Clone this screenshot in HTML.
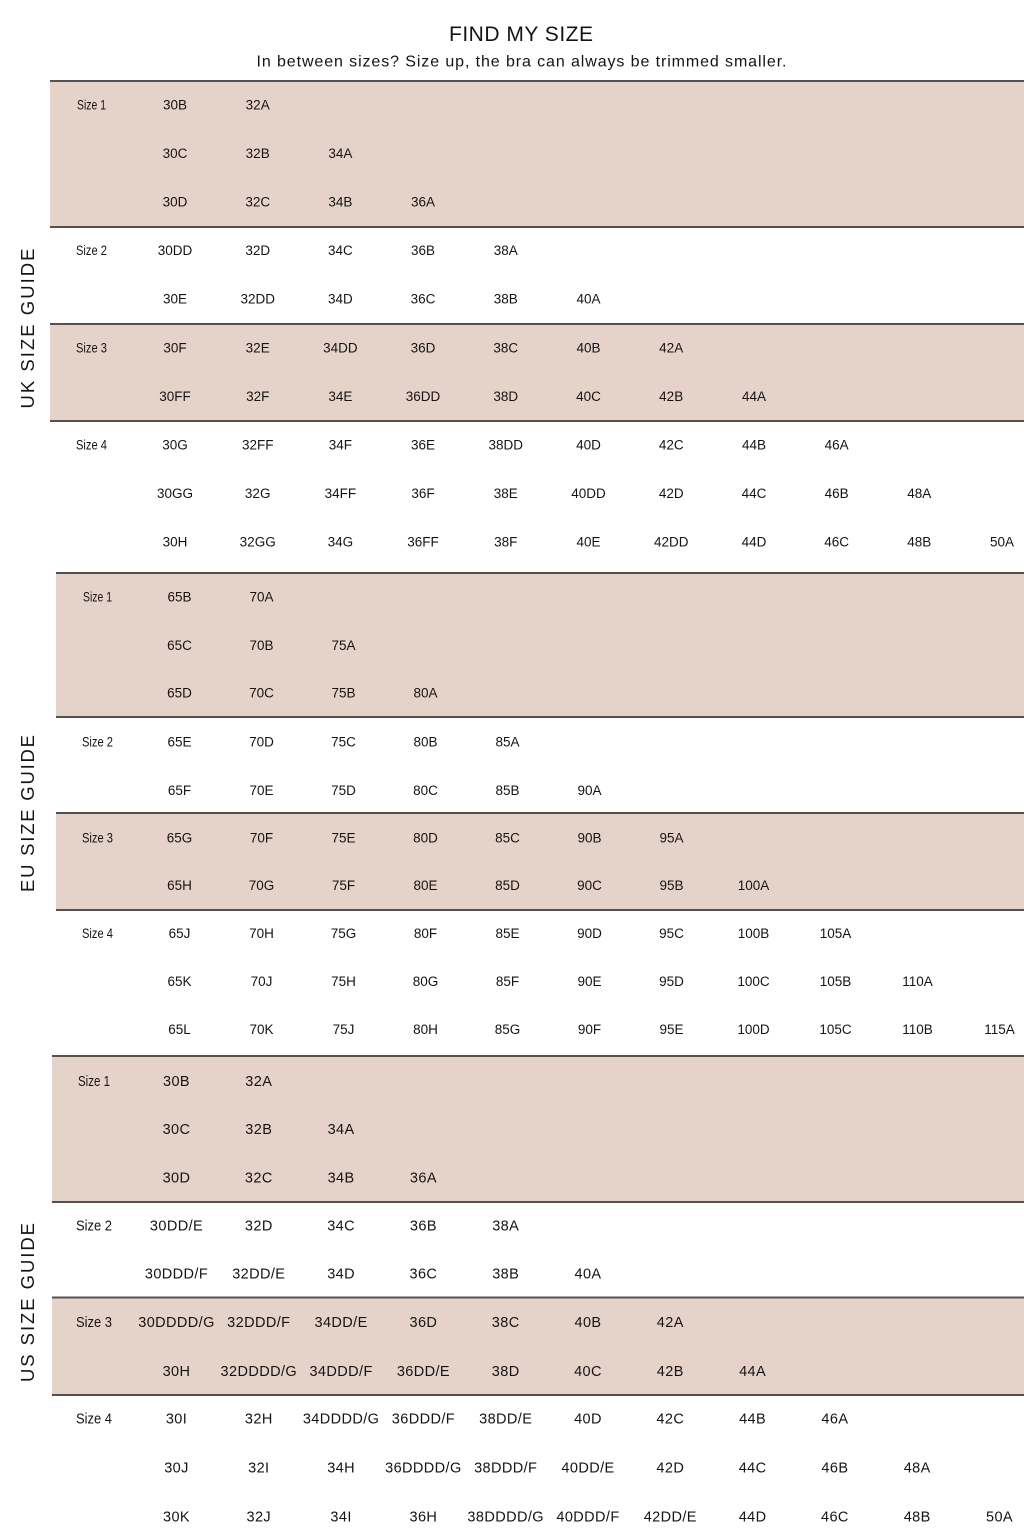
<!DOCTYPE html>
<html>
<head>
<meta charset="utf-8">
<style>
  html,body{margin:0;padding:0;background:#fff;}
  svg{display:block;}
  .t{font-family:"Liberation Sans",sans-serif;fill:#161413;}
  .uk text,.eu text{font-size:13.5px;text-anchor:middle;}
  .us text{font-size:14.5px;letter-spacing:0.4px;text-anchor:middle;}
  .uk text.l,.eu text.l{font-size:13.5px;letter-spacing:0;}
  .us text.l{font-size:14.5px;letter-spacing:0;}
  .v{font-size:18.5px;text-anchor:middle;}
</style>
</head>
<body>
<svg width="1024" height="1536" viewBox="0 0 1024 1536" xmlns="http://www.w3.org/2000/svg">
  <rect width="1024" height="1536" fill="#fff"/>
  <!-- fills -->
  <g fill="#e5d3c9">
    <rect x="50" y="81" width="974" height="146"/>
    <rect x="50" y="324" width="974" height="97"/>
    <rect x="56" y="573" width="968" height="144"/>
    <rect x="56" y="813" width="968" height="97"/>
    <rect x="52" y="1056" width="972" height="146"/>
    <rect x="52" y="1297.5" width="972" height="97.5"/>
  </g>
  <!-- lines -->
  <g stroke="#56504e" stroke-width="2">
    <line x1="50" y1="81" x2="1024" y2="81"/>
    <line x1="50" y1="227" x2="1024" y2="227"/>
    <line x1="50" y1="324" x2="1024" y2="324"/>
    <line x1="50" y1="421" x2="1024" y2="421"/>
    <line x1="56" y1="573" x2="1024" y2="573"/>
    <line x1="56" y1="717" x2="1024" y2="717"/>
    <line x1="56" y1="813" x2="1024" y2="813"/>
    <line x1="56" y1="910" x2="1024" y2="910"/>
    <line x1="52" y1="1056" x2="1024" y2="1056"/>
    <line x1="52" y1="1202" x2="1024" y2="1202"/>
    <line x1="52" y1="1297.5" x2="1024" y2="1297.5"/>
    <line x1="52" y1="1395" x2="1024" y2="1395"/>
  </g>

  <!-- header -->
  <text class="t" x="449" y="41" font-size="21" textLength="144" lengthAdjust="spacing">FIND MY SIZE</text>
  <text class="t" x="256.5" y="66.5" font-size="16" textLength="530" lengthAdjust="spacing">In between sizes? Size up, the bra can always be trimmed smaller.</text>

  <!-- vertical labels -->
  <text class="t v" transform="translate(34,328.5) rotate(-90)" textLength="160" lengthAdjust="spacing">UK SIZE GUIDE</text>
  <text class="t v" transform="translate(34,813.5) rotate(-90)" textLength="157" lengthAdjust="spacing">EU SIZE GUIDE</text>
  <text class="t v" transform="translate(34,1302.5) rotate(-90)" textLength="159" lengthAdjust="spacing">US SIZE GUIDE</text>

  <!-- UK -->
  <g class="t uk">
    <text class="l" x="91.5" y="109.3" textLength="29" lengthAdjust="spacingAndGlyphs">Size 1</text>
    <text x="175" y="109.3">30B</text><text x="257.7" y="109.3">32A</text>
    <text x="175" y="158">30C</text><text x="257.7" y="158">32B</text><text x="340.4" y="158">34A</text>
    <text x="175" y="206.7">30D</text><text x="257.7" y="206.7">32C</text><text x="340.4" y="206.7">34B</text><text x="423" y="206.7">36A</text>

    <text class="l" x="91.5" y="255" textLength="31" lengthAdjust="spacingAndGlyphs">Size 2</text>
    <text x="175" y="255">30DD</text><text x="257.7" y="255">32D</text><text x="340.4" y="255">34C</text><text x="423" y="255">36B</text><text x="505.8" y="255">38A</text>
    <text x="175" y="303.7">30E</text><text x="257.7" y="303.7">32DD</text><text x="340.4" y="303.7">34D</text><text x="423" y="303.7">36C</text><text x="505.8" y="303.7">38B</text><text x="588.5" y="303.7">40A</text>

    <text class="l" x="91.5" y="352.3" textLength="31" lengthAdjust="spacingAndGlyphs">Size 3</text>
    <text x="175" y="352.3">30F</text><text x="257.7" y="352.3">32E</text><text x="340.4" y="352.3">34DD</text><text x="423" y="352.3">36D</text><text x="505.8" y="352.3">38C</text><text x="588.5" y="352.3">40B</text><text x="671.2" y="352.3">42A</text>
    <text x="175" y="401">30FF</text><text x="257.7" y="401">32F</text><text x="340.4" y="401">34E</text><text x="423" y="401">36DD</text><text x="505.8" y="401">38D</text><text x="588.5" y="401">40C</text><text x="671.2" y="401">42B</text><text x="754" y="401">44A</text>

    <text class="l" x="91.5" y="449.3" textLength="31" lengthAdjust="spacingAndGlyphs">Size 4</text>
    <text x="175" y="449.3">30G</text><text x="257.7" y="449.3">32FF</text><text x="340.4" y="449.3">34F</text><text x="423" y="449.3">36E</text><text x="505.8" y="449.3">38DD</text><text x="588.5" y="449.3">40D</text><text x="671.2" y="449.3">42C</text><text x="754" y="449.3">44B</text><text x="836.6" y="449.3">46A</text>
    <text x="175" y="498">30GG</text><text x="257.7" y="498">32G</text><text x="340.4" y="498">34FF</text><text x="423" y="498">36F</text><text x="505.8" y="498">38E</text><text x="588.5" y="498">40DD</text><text x="671.2" y="498">42D</text><text x="754" y="498">44C</text><text x="836.6" y="498">46B</text><text x="919.3" y="498">48A</text>
    <text x="175" y="546.7">30H</text><text x="257.7" y="546.7">32GG</text><text x="340.4" y="546.7">34G</text><text x="423" y="546.7">36FF</text><text x="505.8" y="546.7">38F</text><text x="588.5" y="546.7">40E</text><text x="671.2" y="546.7">42DD</text><text x="754" y="546.7">44D</text><text x="836.6" y="546.7">46C</text><text x="919.3" y="546.7">48B</text><text x="1002" y="546.7">50A</text>
  </g>

  <!-- EU -->
  <g class="t eu">
    <text class="l" x="97.5" y="601.7" textLength="29" lengthAdjust="spacingAndGlyphs">Size 1</text>
    <text x="179.5" y="601.7">65B</text><text x="261.5" y="601.7">70A</text>
    <text x="179.5" y="650">65C</text><text x="261.5" y="650">70B</text><text x="343.5" y="650">75A</text>
    <text x="179.5" y="697.7">65D</text><text x="261.5" y="697.7">70C</text><text x="343.5" y="697.7">75B</text><text x="425.5" y="697.7">80A</text>

    <text class="l" x="97.5" y="746.7" textLength="31" lengthAdjust="spacingAndGlyphs">Size 2</text>
    <text x="179.5" y="746.7">65E</text><text x="261.5" y="746.7">70D</text><text x="343.5" y="746.7">75C</text><text x="425.5" y="746.7">80B</text><text x="507.5" y="746.7">85A</text>
    <text x="179.5" y="795">65F</text><text x="261.5" y="795">70E</text><text x="343.5" y="795">75D</text><text x="425.5" y="795">80C</text><text x="507.5" y="795">85B</text><text x="589.5" y="795">90A</text>

    <text class="l" x="97.5" y="842.7" textLength="31" lengthAdjust="spacingAndGlyphs">Size 3</text>
    <text x="179.5" y="842.7">65G</text><text x="261.5" y="842.7">70F</text><text x="343.5" y="842.7">75E</text><text x="425.5" y="842.7">80D</text><text x="507.5" y="842.7">85C</text><text x="589.5" y="842.7">90B</text><text x="671.5" y="842.7">95A</text>
    <text x="179.5" y="890">65H</text><text x="261.5" y="890">70G</text><text x="343.5" y="890">75F</text><text x="425.5" y="890">80E</text><text x="507.5" y="890">85D</text><text x="589.5" y="890">90C</text><text x="671.5" y="890">95B</text><text x="753.5" y="890">100A</text>

    <text class="l" x="97.5" y="938" textLength="31" lengthAdjust="spacingAndGlyphs">Size 4</text>
    <text x="179.5" y="938">65J</text><text x="261.5" y="938">70H</text><text x="343.5" y="938">75G</text><text x="425.5" y="938">80F</text><text x="507.5" y="938">85E</text><text x="589.5" y="938">90D</text><text x="671.5" y="938">95C</text><text x="753.5" y="938">100B</text><text x="835.5" y="938">105A</text>
    <text x="179.5" y="986">65K</text><text x="261.5" y="986">70J</text><text x="343.5" y="986">75H</text><text x="425.5" y="986">80G</text><text x="507.5" y="986">85F</text><text x="589.5" y="986">90E</text><text x="671.5" y="986">95D</text><text x="753.5" y="986">100C</text><text x="835.5" y="986">105B</text><text x="917.5" y="986">110A</text>
    <text x="179.5" y="1034">65L</text><text x="261.5" y="1034">70K</text><text x="343.5" y="1034">75J</text><text x="425.5" y="1034">80H</text><text x="507.5" y="1034">85G</text><text x="589.5" y="1034">90F</text><text x="671.5" y="1034">95E</text><text x="753.5" y="1034">100D</text><text x="835.5" y="1034">105C</text><text x="917.5" y="1034">110B</text><text x="999.5" y="1034">115A</text>
  </g>

  <!-- US -->
  <g class="t us">
    <text class="l" x="94" y="1086" textLength="32" lengthAdjust="spacingAndGlyphs">Size 1</text>
    <text x="176.5" y="1086">30B</text><text x="258.8" y="1086">32A</text>
    <text x="176.5" y="1134">30C</text><text x="258.8" y="1134">32B</text><text x="341.1" y="1134">34A</text>
    <text x="176.5" y="1182.3">30D</text><text x="258.8" y="1182.3">32C</text><text x="341.1" y="1182.3">34B</text><text x="423.4" y="1182.3">36A</text>

    <text class="l" x="94" y="1230.5" textLength="36" lengthAdjust="spacingAndGlyphs">Size 2</text>
    <text x="176.5" y="1230.5">30DD/E</text><text x="258.8" y="1230.5">32D</text><text x="341.1" y="1230.5">34C</text><text x="423.4" y="1230.5">36B</text><text x="505.7" y="1230.5">38A</text>
    <text x="176.5" y="1278.5">30DDD/F</text><text x="258.8" y="1278.5">32DD/E</text><text x="341.1" y="1278.5">34D</text><text x="423.4" y="1278.5">36C</text><text x="505.7" y="1278.5">38B</text><text x="588" y="1278.5">40A</text>

    <text class="l" x="94" y="1327" textLength="36" lengthAdjust="spacingAndGlyphs">Size 3</text>
    <text x="176.5" y="1327">30DDDD/G</text><text x="258.8" y="1327">32DDD/F</text><text x="341.1" y="1327">34DD/E</text><text x="423.4" y="1327">36D</text><text x="505.7" y="1327">38C</text><text x="588" y="1327">40B</text><text x="670.3" y="1327">42A</text>
    <text x="176.5" y="1376">30H</text><text x="258.8" y="1376">32DDDD/G</text><text x="341.1" y="1376">34DDD/F</text><text x="423.4" y="1376">36DD/E</text><text x="505.7" y="1376">38D</text><text x="588" y="1376">40C</text><text x="670.3" y="1376">42B</text><text x="752.6" y="1376">44A</text>

    <text class="l" x="94" y="1423.5" textLength="36" lengthAdjust="spacingAndGlyphs">Size 4</text>
    <text x="176.5" y="1423.5">30I</text><text x="258.8" y="1423.5">32H</text><text x="341.1" y="1423.5">34DDDD/G</text><text x="423.4" y="1423.5">36DDD/F</text><text x="505.7" y="1423.5">38DD/E</text><text x="588" y="1423.5">40D</text><text x="670.3" y="1423.5">42C</text><text x="752.6" y="1423.5">44B</text><text x="834.9" y="1423.5">46A</text>
    <text x="176.5" y="1472.5">30J</text><text x="258.8" y="1472.5">32I</text><text x="341.1" y="1472.5">34H</text><text x="423.4" y="1472.5">36DDDD/G</text><text x="505.7" y="1472.5">38DDD/F</text><text x="588" y="1472.5">40DD/E</text><text x="670.3" y="1472.5">42D</text><text x="752.6" y="1472.5">44C</text><text x="834.9" y="1472.5">46B</text><text x="917.2" y="1472.5">48A</text>
    <text x="176.5" y="1521.5">30K</text><text x="258.8" y="1521.5">32J</text><text x="341.1" y="1521.5">34I</text><text x="423.4" y="1521.5">36H</text><text x="505.7" y="1521.5">38DDDD/G</text><text x="588" y="1521.5">40DDD/F</text><text x="670.3" y="1521.5">42DD/E</text><text x="752.6" y="1521.5">44D</text><text x="834.9" y="1521.5">46C</text><text x="917.2" y="1521.5">48B</text><text x="999.5" y="1521.5">50A</text>
  </g>
</svg>
</body>
</html>
